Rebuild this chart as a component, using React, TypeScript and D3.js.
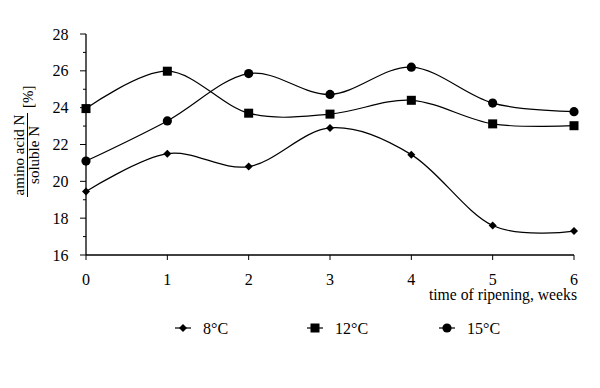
import React from "react";
import * as d3 from "d3";

const weeks = [0, 1, 2, 3, 4, 5, 6];
const s8 = [19.45, 21.5, 20.8, 22.9, 21.45, 17.6, 17.3];
const s12 = [23.95, 25.98, 23.7, 23.65, 24.4, 23.12, 23.02];
const s15 = [21.1, 23.28, 25.85, 24.72, 26.2, 24.25, 23.78];
const seriesNames = ["8°C", "12°C", "15°C"];
const yTicks = [16, 18, 20, 22, 24, 26, 28];
const yMinor = [17, 19, 21, 23, 25, 27];

const FONT = "'Liberation Serif', 'Times New Roman', serif";

function Marker({ kind, x, y }: { kind: string; x: number; y: number }) {
  if (kind === "diamond") {
    const r = 4;
    return <path d={`M${x},${y - r}L${x + r},${y}L${x},${y + r}L${x - r},${y}Z`} fill="#000" />;
  }
  if (kind === "square") {
    const r = 4.5;
    return <rect x={x - r} y={y - r} width={2 * r} height={2 * r} fill="#000" />;
  }
  return <circle cx={x} cy={y} r={4.6} fill="#000" />;
}

export default function App() {
  const x = d3.scaleLinear().domain([0, 6]).range([86, 574]);
  const y = d3.scaleLinear().domain([16, 28]).range([255, 34]);
  const line = d3
    .line<number>()
    .x((_, i) => x(weeks[i]))
    .y((d) => y(d))
    .curve(d3.curveCardinal.tension(0));
  const series = [
    { vals: s8, kind: "diamond" },
    { vals: s12, kind: "square" },
    { vals: s15, kind: "circle" },
  ];
  const legendX = [183, 315, 447];
  return (
    <svg width={600} height={388} style={{ position: "absolute", left: 0, top: 0, background: "#fff" }} fontFamily={FONT}>
      <rect width={600} height={388} fill="#fff" />
      {/* axes */}
      <line x1={x(0)} x2={x(0)} y1={y(28)} y2={y(16)} stroke="#000" strokeWidth={1.3} />
      <line x1={x(0)} x2={x(6)} y1={y(16)} y2={y(16)} stroke="#000" strokeWidth={1.3} />
      {yTicks.map((t) => (
        <g key={t}>
          <line x1={x(0) - 6} x2={x(0)} y1={y(t)} y2={y(t)} stroke="#000" />
          <text x={68.5} y={y(t) + 5.5} textAnchor="end" fontSize={16}>
            {t}
          </text>
        </g>
      ))}
      {yMinor.map((t) => (
        <line key={t} x1={x(0) - 3} x2={x(0)} y1={y(t)} y2={y(t)} stroke="#000" />
      ))}
      {weeks.map((w) => (
        <g key={w}>
          <line x1={x(w)} x2={x(w)} y1={y(16)} y2={y(16) + 5} stroke="#000" />
          <text x={x(w)} y={285} textAnchor="middle" fontSize={16}>
            {w}
          </text>
        </g>
      ))}
      <text x={577} y={300} textAnchor="end" fontSize={15.7}>
        time of ripening, weeks
      </text>
      {/* y label */}
      <g transform="translate(0,155) rotate(-90)">
        <text x={0} y={24} textAnchor="middle" fontSize={15}>
          amino acid N
        </text>
        <line x1={-42} x2={42} y1={27.5} y2={27.5} stroke="#000" strokeWidth={1} />
        <text x={0} y={39} textAnchor="middle" fontSize={15}>
          soluble N
        </text>
        <text x={47} y={33} textAnchor="start" fontSize={15}>
          [%]
        </text>
      </g>
      {/* series */}
      {series.map((s, si) => (
        <g key={si}>
          <path d={line(s.vals) || ""} fill="none" stroke="#000" strokeWidth={1.2} />
          {s.vals.map((v, i) => (
            <Marker key={i} kind={s.kind} x={x(weeks[i])} y={y(v)} />
          ))}
        </g>
      ))}
      {/* legend */}
      {series.map((s, si) => (
        <g key={si}>
          <line x1={legendX[si] - 8} x2={legendX[si] + 8} y1={328} y2={328} stroke="#000" strokeWidth={1.2} />
          <Marker kind={s.kind} x={legendX[si]} y={328} />
          <text x={legendX[si] + 20} y={333.5} fontSize={16}>
            {seriesNames[si]}
          </text>
        </g>
      ))}
    </svg>
  );
}
